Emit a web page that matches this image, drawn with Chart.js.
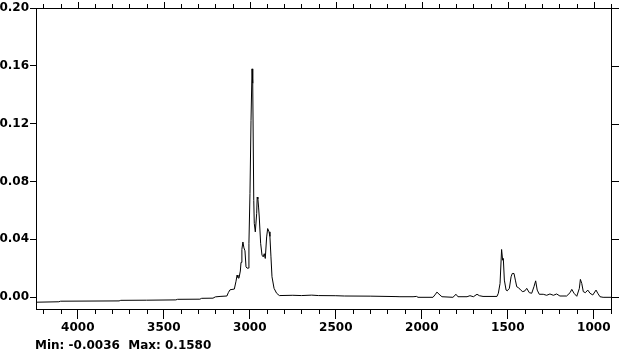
<!DOCTYPE html>
<html lang="en">
<head>
    <meta charset="UTF-8">
    <title>IR Spectrum</title>
    <script src="https://cdn.jsdelivr.net/npm/chart.js"></script>
    <style>
        body {
            margin: 0;
            background: #ffffff;
        }

        .wrap {
            width: 619px;
            height: 356px;
            position: relative;
        }
    </style>
</head>
<body>
    <div class="wrap">
        <canvas id="spectrum"></canvas>
    </div>

<script>
    // wavenumber (cm-1) and absorbance
    const wavenumbers = [
        4243, 4110, 4100, 3760, 3750, 3600, 3430, 3420, 3290, 3280, 3214, 3200,
        3173, 3133, 3125, 3115, 3090, 3080, 3074, 3069, 3063, 3055, 3051, 3046,
        3040, 3034, 3028, 3022, 3016, 3008, 3005, 2999, 2993, 2987, 2983, 2977,
        2974, 2968, 2960, 2957, 2953, 2949, 2945, 2937, 2929, 2922, 2916, 2910,
        2902, 2896, 2888, 2883, 2877, 2871, 2859, 2844, 2828, 2750, 2700, 2640,
        2600, 2500, 2450, 2300, 2150, 2127, 2051, 2030, 2022, 1935, 1920, 1912,
        1900, 1883, 1819, 1801, 1790, 1737, 1720, 1700, 1679, 1665, 1644, 1563,
        1555, 1545, 1536, 1530, 1526, 1520, 1510, 1503, 1491, 1481, 1474, 1464,
        1456, 1448, 1437, 1425, 1413, 1400, 1390, 1375, 1361, 1348, 1338, 1329,
        1317, 1294, 1274, 1255, 1235, 1216, 1197, 1158, 1138, 1128, 1115, 1099,
        1084, 1078, 1070, 1061, 1049, 1035, 1022, 1006, 987, 977, 964, 946, 900
    ];
    const absorbance = [
        -0.0036, -0.0033, -0.0029, -0.0027, -0.0023, -0.0022, -0.0020, -0.0016, -0.0015, -0.0009, -0.0008, 0.0001,
        0.0004, 0.0007, 0.0030, 0.0050, 0.0055, 0.0110, 0.0152, 0.0135, 0.0130, 0.0180, 0.0240, 0.0330,
        0.0381, 0.0340, 0.0320, 0.0209, 0.0200, 0.0200, 0.0372, 0.0717, 0.1221, 0.1580, 0.1480, 0.0669,
        0.0510, 0.0451, 0.0579, 0.0692, 0.0680, 0.0623, 0.0554, 0.0372, 0.0290, 0.0278, 0.0300, 0.0267,
        0.0416, 0.0474, 0.0451, 0.0420, 0.0278, 0.0140, 0.0060, 0.0026, 0.0010, 0.0012, 0.0010, 0.0013,
        0.0010, 0.0009, 0.0007, 0.0006, 0.0003, 0.0002, 0.0002, 0.0004, -0.0002, -0.0002, 0.0020, 0.0034,
        0.0020, 0.0002, -0.0002, 0.0019, 0.0002, 0.0002, 0.0009, 0.0002, 0.0019, 0.0009, 0.0004, 0.0004,
        0.0026, 0.0094, 0.0329, 0.0255, 0.0267, 0.0117, 0.0048, 0.0043, 0.0060, 0.0140, 0.0163, 0.0163,
        0.0117, 0.0071, 0.0064, 0.0048, 0.0037, 0.0043, 0.0060, 0.0030, 0.0026, 0.0071, 0.0112, 0.0048,
        0.0019, 0.0019, 0.0012, 0.0021, 0.0012, 0.0021, 0.0007, 0.0007, 0.0030, 0.0053, 0.0026, 0.0005,
        0.0060, 0.0122, 0.0094, 0.0037, 0.0030, 0.0048, 0.0026, 0.0014, 0.0048, 0.0026, 0.0002, -0.0002, -0.0002
    ];

    const xTickLabels = [4000, 3500, 3000, 2500, 2000, 1500, 1000];
    const yTickLabels = [0.00, 0.04, 0.08, 0.12, 0.16, 0.20];
    const footerText = "Min: -0.0036  Max: 0.1580";

    // minor ticks every 100 cm-1
    let xMinorTicks = [];
    for (let w = 900; w <= 4200; w += 100) xMinorTicks.push(w);

    const fontBold = { family: "'DejaVu Sans'", size: 12, weight: 'bold' };

    // top/right frame, mirrored ticks, short minor ticks and the min/max line
    const framePlugin = {
        id: 'frame',
        afterDraw(chart) {
            let ctx = chart.ctx;
            let a = chart.chartArea;
            let xs = chart.scales.x;
            let ys = chart.scales.y;
            ctx.save();
            ctx.strokeStyle = '#000';
            ctx.lineWidth = 1;
            ctx.beginPath();
            ctx.moveTo(Math.round(a.left) + 0.5, Math.round(a.top) + 0.5);
            ctx.lineTo(Math.round(a.right) + 0.5, Math.round(a.top) + 0.5);
            ctx.lineTo(Math.round(a.right) + 0.5, Math.round(a.bottom) + 0.5);
            xMinorTicks.forEach(v => {
                let px = Math.round(xs.getPixelForValue(v)) + 0.5;
                let major = xTickLabels.includes(v);
                // top
                ctx.moveTo(px, Math.round(a.top));
                ctx.lineTo(px, Math.round(a.top) - (major ? 6 : 4));
                // bottom minor
                if (!major) {
                    ctx.moveTo(px, Math.round(a.bottom));
                    ctx.lineTo(px, Math.round(a.bottom) + 5);
                }
            });
            yTickLabels.forEach(v => {
                let py = Math.round(ys.getPixelForValue(v)) + 0.5;
                ctx.moveTo(Math.round(a.right), py);
                ctx.lineTo(Math.round(a.right) + 8, py);
            });
            ctx.stroke();

            ctx.fillStyle = '#000';
            ctx.font = "bold 12px 'DejaVu Sans'";
            ctx.textBaseline = 'alphabetic';
            ctx.textAlign = 'left';
            ctx.fillText(footerText, 35, 349);
            ctx.restore();
        }
    };

    new Chart(document.getElementById('spectrum'), {
        type: 'line',
        data: {
            datasets: [{
                data: wavenumbers.map((w, i) => ({ x: w, y: absorbance[i] })),
                borderColor: '#000',
                borderWidth: 1,
                pointRadius: 0,
                tension: 0,
                fill: false
            }]
        },
        options: {
            responsive: true,
            maintainAspectRatio: false,
            animation: false,
            events: [],
            layout: { padding: { top: 7, right: 8, left: 0, bottom: 0 } },
            plugins: {
                legend: { display: false },
                tooltip: { enabled: false }
            },
            scales: {
                x: {
                    type: 'linear',
                    reverse: true,
                    min: 900,
                    max: 4243,
                    afterBuildTicks: s => { s.ticks = xMinorTicks.map(v => ({ value: v })); },
                    afterFit: s => { s.height = 47; },
                    grid: {
                        drawOnChartArea: false,
                        drawTicks: true,
                        tickLength: 10,
                        tickColor: c => (c.tick && xTickLabels.includes(c.tick.value)) ? '#000' : 'rgba(0,0,0,0)'
                    },
                    border: { display: true, color: '#000', width: 1 },
                    ticks: {
                        autoSkip: false,
                        maxRotation: 0,
                        padding: 2,
                        color: '#000',
                        font: fontBold,
                        callback: v => xTickLabels.includes(v) ? String(v) : ''
                    }
                },
                y: {
                    min: -0.0083,
                    max: 0.20,
                    afterBuildTicks: s => { s.ticks = yTickLabels.map(v => ({ value: v })); },
                    afterFit: s => { s.width = 36; },
                    grid: {
                        drawOnChartArea: false,
                        drawTicks: true,
                        tickLength: 6,
                        tickColor: '#000'
                    },
                    border: { display: true, color: '#000', width: 1 },
                    ticks: {
                        padding: 1,
                        color: '#000',
                        font: fontBold,
                        callback: v => Number(v).toFixed(2)
                    }
                }
            }
        },
        plugins: [framePlugin]
    });
</script>
</body>
</html>
